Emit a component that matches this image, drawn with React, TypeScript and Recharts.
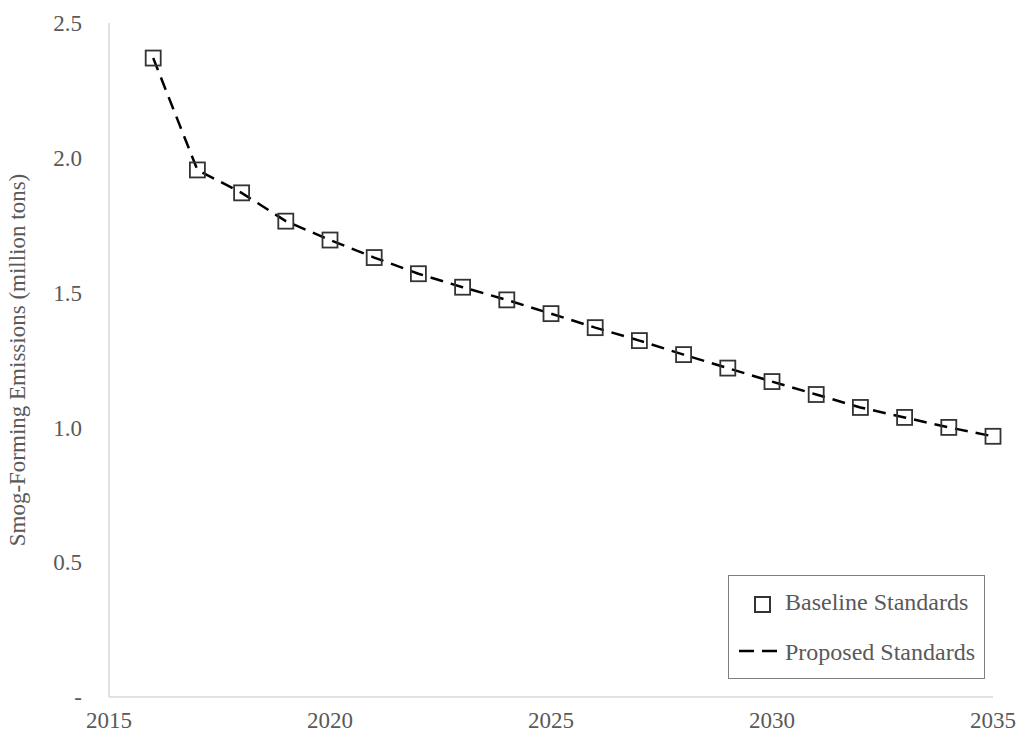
import { Line, LineChart, XAxis, YAxis } from "recharts";

const years = [2016, 2017, 2018, 2019, 2020, 2021, 2022, 2023, 2024, 2025, 2026, 2027, 2028, 2029, 2030, 2031, 2032, 2033, 2034, 2035];
const baseline = [2.37, 1.955, 1.87, 1.765, 1.695, 1.63, 1.57, 1.52, 1.473, 1.422, 1.37, 1.322, 1.27, 1.22, 1.17, 1.122, 1.074, 1.037, 1.0, 0.967];
const proposed = [2.37, 1.955, 1.87, 1.765, 1.695, 1.63, 1.57, 1.52, 1.473, 1.422, 1.37, 1.322, 1.27, 1.22, 1.17, 1.122, 1.074, 1.037, 1.0, 0.967];
const xTicks = [2015, 2020, 2025, 2030, 2035];
const yTicks = [0, 0.5, 1.0, 1.5, 2.0, 2.5];

const data = years.map((year, i) => ({ year, baseline: baseline[i], proposed: proposed[i] }));

const FONT = '"Liberation Serif", "Times New Roman", serif';
const TEXT = "#595959";
const AXIS = "#d9d9d9";

const SquareDot = (props: any) => {
  const { cx, cy, index } = props;
  if (cx == null || cy == null) return <g key={`sq-${index}`} />;
  return (
    <rect
      key={`sq-${index}`}
      x={cx - 7.5}
      y={cy - 7.5}
      width={15}
      height={15}
      fill="none"
      stroke="#333"
      strokeWidth={1.8}
    />
  );
};

export default function App() {
  return (
    <div style={{ position: "absolute", left: 0, top: 0, width: 1019, height: 738, background: "#fff", fontFamily: FONT }}>
      <LineChart width={1019} height={738} data={data} margin={{ top: 23, right: 26, bottom: 0, left: 0 }}>
        <XAxis
          dataKey="year"
          type="number"
          domain={[2015, 2035]}
          ticks={xTicks}
          height={41}
          stroke={AXIS}
          strokeWidth={1.5}
          tickLine={false}
          tickSize={0}
          tickMargin={15}
          tick={{ fill: TEXT, fontSize: 23, fontFamily: FONT }}
        />
        <YAxis
          type="number"
          domain={[0, 2.5]}
          ticks={yTicks}
          width={109}
          stroke={AXIS}
          strokeWidth={1.5}
          tickLine={false}
          tickSize={0}
          tickMargin={27}
          tickFormatter={(v: number) => (v === 0 ? "-" : v.toFixed(1))}
          tick={{ fill: TEXT, fontSize: 23, fontFamily: FONT }}
        />
        <Line
          dataKey="baseline"
          stroke="none"
          dot={SquareDot}
          activeDot={false}
          isAnimationActive={false}
        />
        <Line
          dataKey="proposed"
          type="linear"
          stroke="#000"
          strokeWidth={2.5}
          strokeDasharray="13 8"
          dot={false}
          activeDot={false}
          isAnimationActive={false}
        />
      </LineChart>
      <div
        style={{
          position: "absolute",
          left: 18,
          top: 360,
          transform: "translate(-50%, -50%) rotate(-90deg)",
          whiteSpace: "nowrap",
          color: TEXT,
          fontSize: 23,
        }}
      >
        Smog-Forming Emissions (million tons)
      </div>
      <div
        style={{
          position: "absolute",
          left: 728,
          top: 575,
          width: 255,
          height: 102,
          border: "1.5px solid #7f7f7f",
          color: TEXT,
          fontSize: 24,
        }}
      >
        <div style={{ position: "absolute", left: 25, top: 20, width: 13, height: 13, border: "2px solid #333" }} />
        <div style={{ position: "absolute", left: 56, top: 12, whiteSpace: "nowrap", lineHeight: "28px" }}>Baseline Standards</div>
        <svg style={{ position: "absolute", left: 10, top: 72 }} width={45} height={6}>
          <line x1={0} y1={3} x2={42} y2={3} stroke="#000" strokeWidth={2.5} strokeDasharray="15 8" />
        </svg>
        <div style={{ position: "absolute", left: 56, top: 62, whiteSpace: "nowrap", lineHeight: "28px" }}>Proposed Standards</div>
      </div>
    </div>
  );
}
